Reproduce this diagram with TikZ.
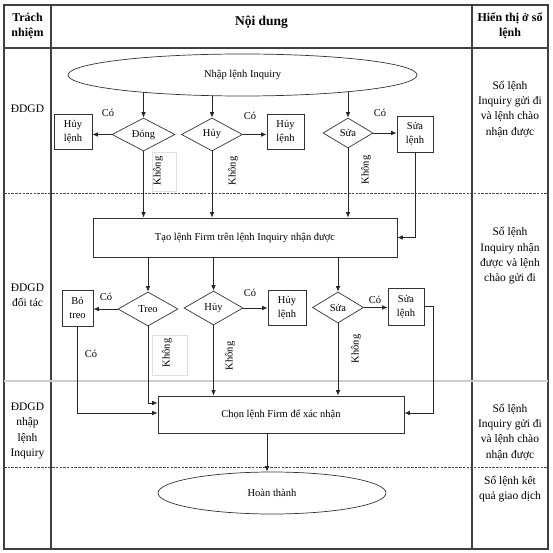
\documentclass[tikz,border=0pt]{standalone}
\usepackage{fontspec}
\setmainfont{Liberation Serif}
\usetikzlibrary{shapes.geometric,arrows.meta,backgrounds}

\begin{document}
\begin{tikzpicture}[x=1pt, y=-1pt, font=\fontsize{10.5}{14}\selectfont,
    box/.style={draw=black!80, line width=0.7pt, fill=white, align=center, inner sep=0pt},
    decision/.style={diamond, aspect=2, draw=black!80, line width=0.7pt, fill=white, inner sep=0pt},
    terminal/.style={ellipse, draw=black!80, line width=0.7pt, fill=white, inner sep=0pt},
    arr/.style={draw=black!85, line width=0.7pt, -{Latex[length=5.5pt,width=4.5pt]}},
    head/.style={font=\fontsize{12}{15}\selectfont\bfseries, align=center},
    side/.style={font=\fontsize{11.5}{15.3}\selectfont, align=center},
    rowline/.style={draw=black!70, line width=0.6pt, dash pattern=on 2.5pt off 1.2pt}]
    \useasboundingbox (0,0) rectangle (553,553);

    % bang
    \draw[black!75, line width=1.2pt] (4,5) rectangle (548,549);
    \draw[black!75, line width=1.2pt] (51,5) -- (51,549) (472,5) -- (472,549) (4,48) -- (548,48);
    \draw[rowline] (4,193) -- (548,193);
    \draw[black!20, line width=1.2pt] (4,381) -- (548,381);
    \draw[rowline] (4,467) -- (548,467);

    \node (hTrach) at (27.5,26) [head] {Trách\\nhiệm};
    \node (hNoidung) at (261.5,22) [font=\fontsize{13.5}{15}\selectfont\bfseries] {Nội dung};
    \node (hHienthi) at (510,26) [head] {Hiển thị ở sổ\\lệnh};

    \node (tDDGD) at (27.5,109) [side] {ĐDGD};
    \node (tDoitac) at (27.5,295) [side] {ĐDGD\\đối tác};
    \node (tNhap) at (27.5,431) [side] {ĐDGD\\nhập\\lệnh\\Inquiry};
    \node (sGui1) at (510,109) [side] {Sổ lệnh\\Inquiry gửi đi\\và lệnh chào\\nhận được};
    \node (sNhan) at (510,256) [side] {Sổ lệnh\\Inquiry nhận\\được và lệnh\\chào gửi đi};
    \node (sGui2) at (510,432) [side] {Sổ lệnh\\Inquiry gửi đi\\và lệnh chào\\nhận được};
    \node (sKetqua) at (510,489) [side] {Sổ lệnh kết\\quả giao dịch};

    % luu do
    \node (start) at (242.5,75) [terminal, minimum width=349pt, minimum height=42pt] {Nhập lệnh Inquiry};
    \node (dDong) at (143.5,134.5) [decision, minimum width=63pt, minimum height=33pt] {Đóng};
    \node (dHuy1) at (212,134.5) [decision, minimum width=61pt, minimum height=33pt] {Hủy};
    \node (dSua1) at (348,133) [decision, minimum width=50pt, minimum height=30pt] {Sửa};
    \node (bHuy1) at (73,131.5) [box, minimum width=38pt, minimum height=35pt] {Hủy\\lệnh};
    \node (bHuy2) at (285.5,131.5) [box, minimum width=37pt, minimum height=35pt] {Hủy\\lệnh};
    \node (bSua1) at (415,134) [box, minimum width=36pt, minimum height=36pt] {Sửa\\lệnh};
    \node (tao) at (245,237.5) [box, minimum width=304pt, minimum height=39pt] {Tạo lệnh Firm trên lệnh Inquiry nhận được};
    \node (dTreo) at (148,309) [decision, minimum width=60pt, minimum height=34pt] {Treo};
    \node (dHuy2) at (213.5,308) [decision, minimum width=59pt, minimum height=34pt] {Hủy};
    \node (dSua2) at (338,307.5) [decision, minimum width=51pt, minimum height=31pt] {Sửa};
    \node (bBo) at (77.5,308) [box, minimum width=31pt, minimum height=36pt] {Bỏ\\treo};
    \node (bHuy3) at (287,307.5) [box, minimum width=38pt, minimum height=35pt] {Hủy\\lệnh};
    \node (bSua2) at (406,306.5) [box, minimum width=36pt, minimum height=37pt] {Sửa\\lệnh};
    \node (chon) at (281,414.5) [box, minimum width=246pt, minimum height=37pt] {Chọn lệnh Firm để xác nhận};
    \node (done) at (272,493) [terminal, minimum width=228pt, minimum height=42pt] {Hoàn thành};

    \begin{scope}[on background layer]
        \draw[arr] (dDong.north |- start.center) -- (dDong.north);
        \draw[arr] (dHuy1.north |- start.center) -- (dHuy1.north);
        \draw[arr] (dSua1.north |- start.center) -- (dSua1.north);
    \end{scope}
    \draw[arr] (dDong.west) -- (dDong.west -| bHuy1.east);
    \draw[arr] (dHuy1.east) -- (dHuy1.east -| bHuy2.west);
    \draw[arr] (dSua1.east) -- (dSua1.east -| bSua1.west);
    \draw[arr] (dDong.south) -- (dDong.south |- tao.north);
    \draw[arr] (dHuy1.south) -- (dHuy1.south |- tao.north);
    \draw[arr] (dSua1.south) -- (dSua1.south |- tao.north);
    \draw[arr] (bSua1.south) |- (tao.east);
    \draw[arr] (tao.south -| dTreo.north) -- (dTreo.north);
    \draw[arr] (tao.south -| dHuy2.north) -- (dHuy2.north);
    \draw[arr] (tao.south -| dSua2.north) -- (dSua2.north);
    \draw[arr] (dTreo.west) -- (dTreo.west -| bBo.east);
    \draw[arr] (dHuy2.east) -- (dHuy2.east -| bHuy3.west);
    \draw[arr] (dSua2.east) -- (dSua2.east -| bSua2.west);
    \draw[arr] (bBo.south) |- ([yshift=1.5pt]chon.west);
    \draw[arr] (dTreo.south) |- ([yshift=11.5pt]chon.west);
    \draw[arr] (dHuy2.south) -- (dHuy2.south |- chon.north);
    \draw[arr] (dSua2.south) -- (dSua2.south |- chon.north);
    \draw[arr] (bSua2.east) -- ++(9,0) |- ([yshift=1.5pt]chon.east);
    \draw[arr] ([xshift=-14pt]chon.south) -- ([xshift=-14pt]chon.south |- done.north);

    % nhan
    \draw[black!12] (152,152) rectangle (176,191);
    \draw[black!12] (152,335) rectangle (187,375);
    \node (co1) at (108,113) {Có};
    \node (co2) at (250,116) {Có};
    \node (co3) at (380,113) {Có};
    \node (co4) at (106,297) {Có};
    \node (co5) at (250,293) {Có};
    \node (co6) at (375,300) {Có};
    \node (co7) at (91,354) {Có};
    \node (kh1) at (158,171) [rotate=90] {Không};
    \node (kh2) at (233,171) [rotate=90] {Không};
    \node (kh3) at (366,170) [rotate=90] {Không};
    \node (kh4) at (167,353) [rotate=90] {Không};
    \node (kh5) at (230,356) [rotate=90] {Không};
    \node (kh6) at (356,349) [rotate=90] {Không};
\end{tikzpicture}
\end{document}
